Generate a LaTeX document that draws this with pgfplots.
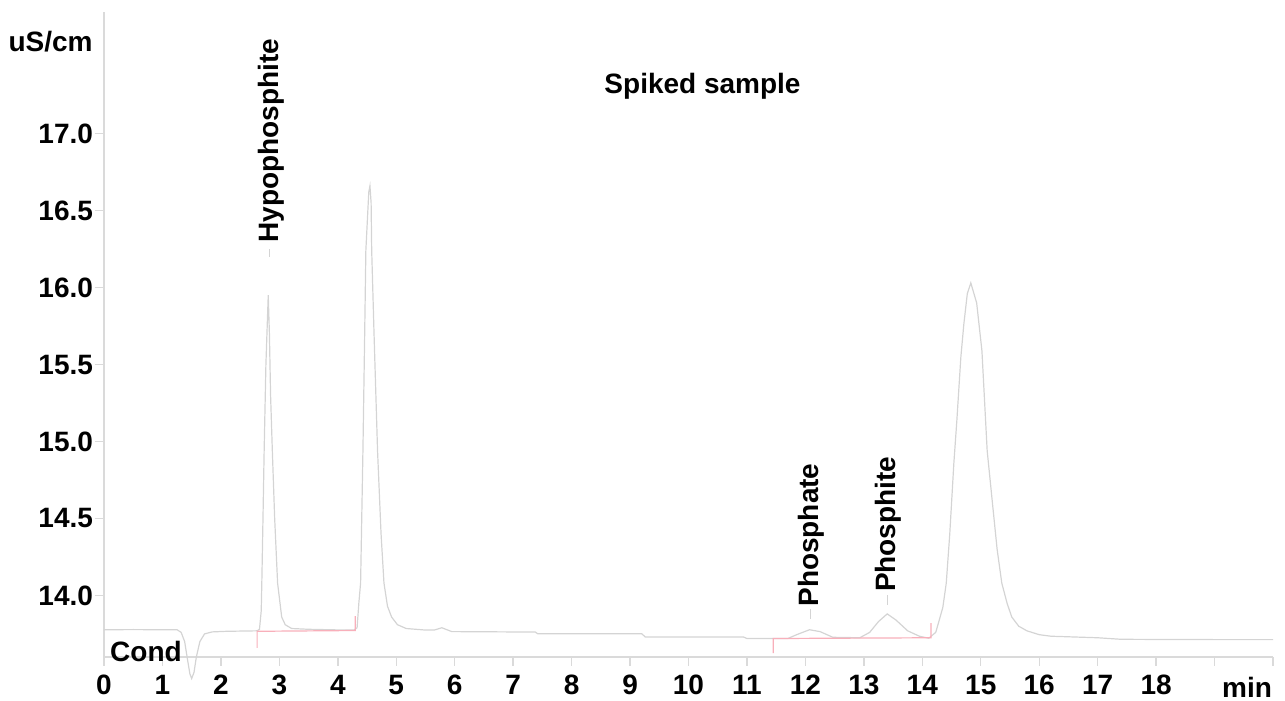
\documentclass[border=0pt]{standalone}
\usepackage{fontspec}
\setmainfont{Liberation Sans}
\usepackage{pgfplots}
\pgfplotsset{compat=1.18}

\definecolor{trace}{RGB}{212,212,212}
\definecolor{intg}{RGB}{248,175,186}
\definecolor{axgray}{RGB}{218,218,218}

\newcommand{\lab}{\fontsize{14}{16}\selectfont\bfseries}
\newcommand{\tck}{\fontsize{14}{16}\selectfont\bfseries}

\begin{document}
\begin{tikzpicture}
\begin{axis}[
  at={(0,0)}, anchor=south west,
  scale only axis,
  width=584.5pt, height=322.5pt,
  xmin=0, xmax=20, ymin=13.6, ymax=17.79,
  axis x line=bottom, axis y line=left,
  axis line style={-, draw=axgray, line width=0.7pt},
  tick style={draw=axgray, line width=0.7pt},
  tick align=outside,
  major tick length=4.5pt,
  xtick={0,1,2,3,4,5,6,7,8,9,10,11,12,13,14,15,16,17,18,19,20},
  xticklabels={0,1,2,3,4,5,6,7,8,9,10,11,12,13,14,15,16,17,18,{},{}},
  ytick={14,14.5,15,15.5,16,16.5,17},
  yticklabels={14.0,14.5,15.0,15.5,16.0,16.5,17.0},
  ticklabel style={font=\tck},
  xticklabel style={yshift=-1pt},
  yticklabel style={xshift=2.5pt},
  clip=false,
]
% chromatogram trace
\addplot[trace, line width=0.6pt] coordinates {
  (0,13.777)(0.5,13.778)(1.0,13.777)(1.25,13.777)(1.32,13.76)(1.38,13.70)
  (1.43,13.58)(1.47,13.49)(1.50,13.46)(1.54,13.50)(1.58,13.60)(1.64,13.70)
  (1.72,13.75)(1.85,13.763)(2.1,13.767)(2.62,13.77)(2.66,13.78)(2.69,13.90)
  (2.70,14.08)(2.72,14.50)(2.74,14.94)(2.77,15.50)(2.81,15.95)(2.83,15.70)
  (2.85,15.30)(2.88,14.94)(2.92,14.50)(2.97,14.08)(3.04,13.86)(3.10,13.81)
  (3.21,13.785)(3.5,13.78)(4.0,13.776)(4.28,13.776)(4.33,13.79)(4.36,13.95)
  (4.39,14.08)(4.43,14.94)(4.46,15.70)(4.48,16.24)(4.53,16.62)(4.55,16.66)
  (4.57,16.55)(4.58,16.24)(4.62,15.70)(4.68,14.94)(4.74,14.40)(4.79,14.08)
  (4.85,13.93)(4.92,13.86)(5.02,13.81)(5.17,13.785)(5.5,13.775)(5.65,13.775)
  (5.78,13.79)(5.95,13.765)(7.38,13.762)(7.42,13.751)(9.2,13.751)(9.26,13.73)
  (10.94,13.73)(11.0,13.72)(11.70,13.72)(11.85,13.745)(12.07,13.777)
  (12.25,13.765)(12.47,13.728)(12.93,13.725)(13.1,13.76)(13.25,13.83)
  (13.40,13.88)(13.55,13.84)(13.75,13.77)(13.95,13.735)(14.11,13.722)
  (14.23,13.76)(14.35,13.92)(14.41,14.08)(14.47,14.40)(14.54,14.86)
  (14.59,15.13)(14.66,15.55)(14.71,15.76)(14.77,15.96)(14.83,16.03)
  (14.93,15.90)(15.02,15.59)(15.11,14.94)(15.2,14.60)(15.28,14.30)
  (15.36,14.08)(15.45,13.95)(15.53,13.86)(15.65,13.80)(15.79,13.77)
  (16.0,13.745)(16.2,13.735)(17.0,13.725)(17.4,13.715)(18,13.714)
  (19,13.713)(20,13.713)
};
% integration baselines
\addplot[intg, line width=0.6pt] coordinates {(2.62,13.66)(2.62,13.767)(4.30,13.772)(4.30,13.865)};
\addplot[intg, line width=0.6pt] coordinates {(11.45,13.625)(11.45,13.72)(14.15,13.725)(14.15,13.82)};
% peak marker lines
\addplot[trace, line width=0.5pt] coordinates {(2.83,16.25)(2.83,16.20)};
\addplot[trace, line width=0.5pt] coordinates {(12.09,13.915)(12.09,13.85)};
\addplot[trace, line width=0.5pt] coordinates {(13.40,14.00)(13.40,13.94)};

\node[anchor=west, inner sep=0, font=\lab] at (axis cs:-1.64,17.60) {uS/cm};
\node[inner sep=0, font=\lab] at (axis cs:10.24,17.305) {Spiked sample};
\node[anchor=west, inner sep=0, font=\lab] at (axis cs:0.10,13.636) {Cond};
\node[anchor=base east, inner sep=0, font=\tck] at (axis cs:19.99,13.34) {min};
\node[rotate=90, anchor=west, inner sep=0, font=\lab] at (axis cs:2.87,16.29) {Hypophosphite};
\node[rotate=90, anchor=west, inner sep=0, font=\lab] at (axis cs:12.10,13.925) {Phosphate};
\node[rotate=90, anchor=west, inner sep=0, font=\lab] at (axis cs:13.42,14.02) {Phosphite};
\end{axis}
\pgfresetboundingbox
\path (-52pt,-22pt) rectangle (590.5pt,328.5pt);
\end{tikzpicture}
\end{document}
